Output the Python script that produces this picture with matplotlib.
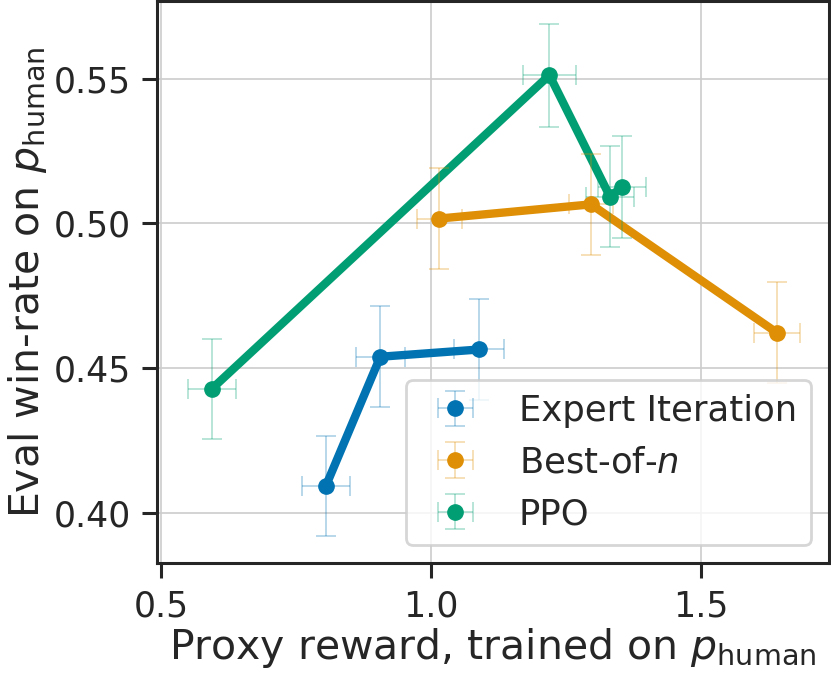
import matplotlib
matplotlib.use("Agg")
import matplotlib.pyplot as plt

# Data
ei_x = [0.805, 0.906, 1.089]
ei_y = [0.4093, 0.4540, 0.4565]
ei_xerr = [0.044, 0.045, 0.046]
ei_yerr = [0.0172, 0.0175, 0.0175]

bon_x = [1.015, 1.296, 1.640]
bon_y = [0.5017, 0.5066, 0.4623]
bon_xerr = [0.042, 0.040, 0.043]
bon_yerr = [0.0175, 0.0175, 0.0175]

ppo_x = [0.594, 1.219, 1.331, 1.353]
ppo_y = [0.4429, 0.5512, 0.5093, 0.5125]
ppo_xerr = [0.044, 0.049, 0.044, 0.045]
ppo_yerr = [0.0173, 0.0178, 0.0175, 0.0176]

series = [
    ("Expert Iteration", ei_x, ei_y, ei_xerr, ei_yerr, "#0173b2"),
    ("Best-of-$n$", bon_x, bon_y, bon_xerr, bon_yerr, "#de8f05"),
    ("PPO", ppo_x, ppo_y, ppo_xerr, ppo_yerr, "#029e73"),
]

TICK_FS = 25
LABEL_FS = 29.5
LEG_FS = 25.5
plt.rcParams["font.family"] = ["DejaVu Sans"]
plt.rcParams["mathtext.fontset"] = "dejavusans"
plt.rcParams["text.color"] = "#262626"
plt.rcParams["axes.labelcolor"] = "#262626"
plt.rcParams["xtick.color"] = "#262626"
plt.rcParams["ytick.color"] = "#262626"

fig = plt.figure(figsize=(8.31, 6.74), dpi=100)
ax = fig.add_axes([157 / 831, 1 - 563 / 674, (829 - 157) / 831, (563 - 1) / 674])

for name, x, y, xerr, yerr, c in series:
    eb = ax.errorbar(x, y, xerr=xerr, yerr=yerr, fmt="o", color=c, ms=11,
                     elinewidth=1.3, capsize=7, capthick=1.3, label=name, zorder=4)
    for art in list(eb[1]) + list(eb[2]):
        art.set_alpha(0.3)
    ax.plot(x, y, color=c, lw=6, zorder=3)

ax.set_xlim(0.4926, 1.7365)
ax.set_ylim(0.3828, 0.5768)
ax.set_xticks([0.5, 1.0, 1.5])
ax.set_yticks([0.40, 0.45, 0.50, 0.55])

ax.grid(True, color="#cccccc", lw=1.2)
ax.set_axisbelow(True)
for s in ax.spines.values():
    s.set_color("#262626")
    s.set_linewidth(2.2)
ax.tick_params(axis="both", length=11, width=2.2, pad=8, labelsize=TICK_FS)

ax.set_xlabel(r"Proxy reward, trained on $p_{\mathrm{human}}$", fontsize=LABEL_FS, labelpad=2)
ax.set_ylabel(r"Eval win-rate on $p_{\mathrm{human}}$", fontsize=LABEL_FS, labelpad=3)

leg = ax.legend(loc="lower right", fontsize=LEG_FS, frameon=True, fancybox=True,
                framealpha=0.8, edgecolor="#cccccc")
leg.get_frame().set_linewidth(2.0)

fig.savefig("out.png", dpi=100)
